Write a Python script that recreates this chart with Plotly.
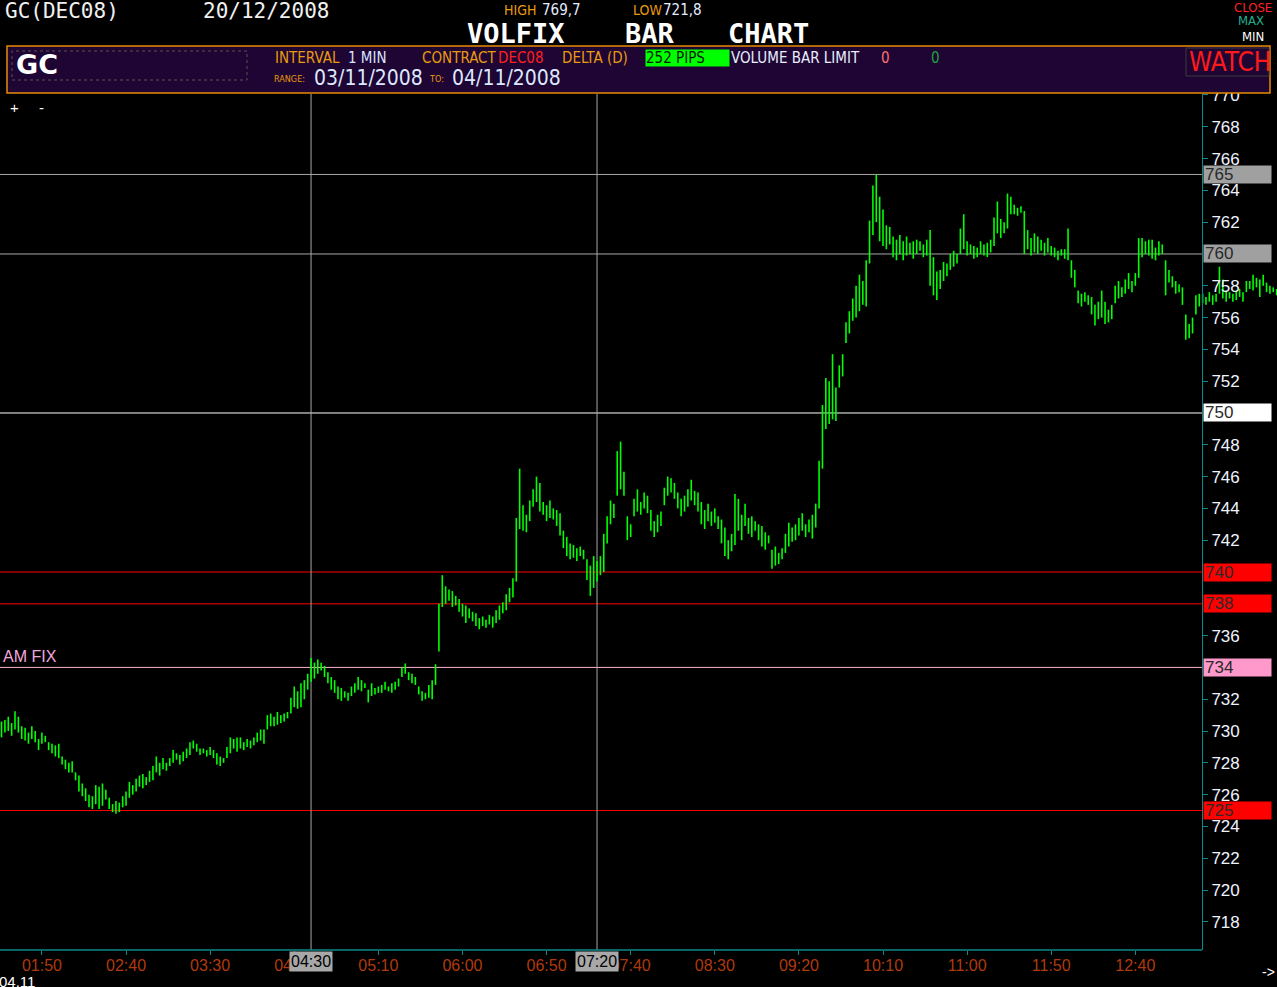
import plotly.graph_objects as go
import pandas as pd

W, H = 1277, 987
# the page photo shows the figure in rows 8..987, so pixel targets are mapped into that band
TOP, BAND = 8, 979
DAY = "2008-11-04"

# ---------------- data (2-minute high/low bars) ----------------
start_time = DAY + " 01:26"
bar_minutes = 2

lows = [
    729.6, 729.9, 730.0, 729.7, 730.1, 729.9, 729.5, 729.4, 729.2, 729.5,
    729.3, 728.8, 729.2, 729.3, 728.8, 728.6, 728.4, 728.3, 727.9, 727.6,
    727.4, 727.4, 726.9, 726.2, 725.9, 725.6, 725.2, 725.1, 725.4, 725.1,
    725.3, 725.7, 725.1, 724.9, 724.8, 724.9, 725.2, 725.3, 725.8, 726.0,
    726.2, 726.5, 726.4, 726.6, 726.8, 726.9, 727.4, 727.2, 727.6, 727.5,
    727.8, 728.0, 728.2, 727.9, 728.1, 728.3, 728.5, 728.9, 728.7, 728.5,
    728.6, 728.4, 728.5, 728.3, 727.9, 727.8, 728.0, 728.3, 728.6, 728.9,
    728.7, 728.9, 728.8, 729.0, 728.9, 729.1, 729.3, 729.4, 729.2, 730.1,
    730.3, 730.3, 730.4, 730.5, 730.6, 730.8, 731.1, 731.5, 731.4, 731.5,
    732.0, 732.6, 733.1, 733.3, 733.6, 733.8, 733.4, 733.0, 732.6, 732.4,
    732.0, 731.9, 732.1, 731.9, 732.2, 732.4, 732.6, 732.5, 732.7, 731.8,
    732.2, 732.3, 732.4, 732.4, 732.6, 732.5, 732.4, 732.6, 732.8, 733.4,
    733.6, 733.2, 733.0, 732.9, 732.3, 731.9, 732.0, 732.1, 732.0, 732.9,
    735.0, 737.8, 738.0, 738.2, 737.8, 737.9, 737.5, 737.2, 736.8, 737.1,
    736.9, 736.6, 736.4, 736.6, 736.5, 736.7, 736.5, 736.8, 737.0, 737.4,
    737.6, 738.1, 738.4, 739.4, 742.7, 742.6, 742.5, 743.2, 744.1, 744.4,
    743.8, 743.6, 743.2, 743.4, 743.3, 742.9, 742.3, 741.5, 741.0, 740.8,
    740.9, 740.7, 741.0, 740.8, 739.5, 738.5, 739.0, 739.4, 739.8, 740.0,
    741.8, 743.0, 743.4, 744.8, 745.2, 744.8, 742.0, 742.2, 743.5, 743.8,
    743.6, 744.0, 743.7, 742.6, 742.2, 742.5, 742.9, 744.2, 744.8, 745.0,
    744.6, 744.0, 743.5, 743.8, 744.1, 744.5, 744.2, 743.8, 743.0, 742.7,
    743.2, 742.9, 743.1, 742.7, 741.8, 741.0, 740.8, 741.3, 741.7, 742.6,
    742.0, 742.9, 742.4, 742.2, 742.6, 742.0, 741.6, 741.4, 741.8, 740.2,
    740.4, 740.5, 740.8, 741.2, 741.6, 741.9, 742.0, 742.3, 742.6, 742.2,
    742.5, 742.1, 742.8, 744.0, 746.5, 749.0, 749.3, 749.6, 749.5, 751.6,
    752.3, 754.4, 755.0, 755.8, 756.0, 756.4, 756.8, 756.7, 759.4, 761.2,
    762.0, 760.8, 760.5, 760.3, 760.6, 759.8, 759.6, 760.0, 759.6, 759.9,
    760.0, 759.7, 760.0, 760.2, 759.8, 759.9, 758.0, 757.4, 757.1, 757.8,
    758.3, 758.6, 759.0, 759.2, 759.4, 760.0, 760.3, 759.9, 760.0, 759.7,
    759.8, 760.0, 759.9, 759.8, 760.1, 760.5, 761.3, 761.0, 761.3, 761.6,
    762.5, 762.5, 762.4, 762.6, 760.0, 760.3, 759.9, 760.1, 760.0, 760.2,
    759.9, 760.1, 759.9, 759.8, 759.6, 759.9, 759.7, 759.6, 758.5, 757.9,
    756.9, 756.7, 757.0, 756.8, 756.2, 755.5, 755.9, 756.0, 755.6, 755.7,
    755.9, 756.9, 757.2, 757.3, 757.5, 757.8, 757.6, 758.0, 758.5, 759.8,
    760.0, 759.9, 759.7, 759.6, 759.9, 760.0, 757.4, 758.2, 757.9, 757.5,
    757.6, 756.8, 754.6, 754.7, 755.0, 756.2, 756.7, 756.9, 756.8, 757.0,
    756.8, 757.0, 757.5, 757.2, 757.0, 757.2, 757.0, 757.1, 757.3, 757.0,
    757.6, 757.8, 757.7, 757.9, 757.3, 758.0, 757.6, 757.5, 757.6, 757.4,
]

highs = [
    730.6, 730.7, 730.9, 730.5, 731.25, 730.9, 730.3, 730.2, 729.9, 730.3,
    730.0, 729.5, 729.9, 729.7, 729.3, 729.2, 729.1, 729.2, 728.4, 728.2,
    728.0, 728.1, 727.4, 727.2, 726.7, 726.4, 726.0, 725.9, 726.6, 726.5,
    726.7, 726.3, 725.8, 725.4, 725.6, 725.5, 725.9, 726.2, 726.8, 726.6,
    727.0, 727.2, 727.3, 727.1, 727.5, 727.8, 728.4, 728.0, 728.3, 728.0,
    728.3, 728.8, 728.6, 728.5, 728.7, 728.9, 729.3, 729.4, 729.2, 728.9,
    728.9, 728.8, 729.0, 728.8, 728.6, 728.4, 728.3, 729.0, 729.6, 729.5,
    729.6, 729.6, 729.3, 729.5, 729.4, 729.6, 729.9, 730.1, 730.1, 731.0,
    731.1, 730.9, 731.2, 731.0, 731.1, 731.2, 732.1, 732.8, 732.5, 733.0,
    733.2, 733.6, 734.6, 734.3, 734.5, 734.3, 734.1, 733.7, 733.4, 733.2,
    732.8, 732.7, 732.5, 732.4, 732.8, 733.0, 733.4, 733.2, 733.0, 732.6,
    733.0, 732.7, 732.8, 732.9, 733.1, 732.8, 733.0, 733.1, 733.3, 734.0,
    734.25, 733.7, 733.6, 733.4, 732.8, 732.5, 732.4, 732.9, 733.2, 734.2,
    738.0, 739.8, 739.1, 738.9, 738.8, 738.5, 738.3, 738.0, 737.9, 737.7,
    737.5, 737.4, 737.1, 737.2, 737.0, 737.3, 737.2, 737.6, 737.9, 738.1,
    738.6, 739.0, 739.6, 743.4, 746.5, 744.2, 743.6, 744.5, 745.2, 746.0,
    745.6, 744.4, 744.2, 744.5, 744.0, 743.9, 743.7, 742.6, 742.2, 741.8,
    741.7, 741.5, 741.6, 741.4, 740.8, 740.4, 741.0, 740.7, 741.0, 742.4,
    743.5, 744.5, 744.3, 747.6, 748.2, 746.3, 743.5, 743.0, 744.6, 745.2,
    744.4, 745.0, 744.8, 743.9, 743.2, 743.6, 743.8, 745.3, 746.0, 745.9,
    745.6, 745.0, 744.6, 744.8, 745.2, 745.8, 745.1, 745.0, 744.4, 743.9,
    744.3, 743.8, 744.0, 743.5, 743.3, 742.8, 742.0, 742.4, 744.9, 744.6,
    743.6, 744.3, 743.4, 743.5, 743.2, 743.0, 742.9, 742.5, 742.3, 741.4,
    741.6, 741.2, 741.5, 742.4, 743.1, 742.8, 743.0, 743.4, 743.7, 743.0,
    743.3, 743.6, 744.3, 747.0, 750.5, 752.2, 752.0, 753.7, 751.6, 753.0,
    753.7, 755.7, 756.4, 757.2, 758.0, 758.7, 758.3, 759.6, 762.1, 764.3,
    765.0, 763.6, 762.8, 761.8, 761.7, 761.1, 760.9, 761.2, 760.8, 761.1,
    760.7, 760.8, 760.9, 760.8, 760.6, 760.9, 761.5, 759.8, 758.9, 759.0,
    759.5, 759.4, 760.0, 760.2, 760.0, 761.6, 762.5, 760.8, 760.6, 760.5,
    760.4, 760.8, 760.6, 760.7, 760.9, 762.3, 763.3, 762.2, 762.0, 763.8,
    763.6, 763.1, 762.9, 763.0, 762.7, 761.5, 761.0, 761.3, 761.1, 760.9,
    760.7, 761.0, 760.5, 760.4, 760.2, 760.3, 760.3, 761.6, 759.6, 759.0,
    757.7, 757.5, 757.6, 757.4, 757.3, 756.8, 757.0, 757.7, 757.0, 756.5,
    756.8, 758.0, 758.3, 757.9, 758.4, 758.8, 758.3, 758.8, 761.0, 761.0,
    760.8, 760.9, 760.9, 760.4, 760.8, 760.6, 759.6, 759.0, 758.6, 758.3,
    758.1, 757.9, 756.2, 755.6, 756.0, 757.4, 757.5, 757.5, 757.3, 757.6,
    757.4, 757.5, 759.2, 758.4, 757.7, 757.6, 757.5, 757.7, 757.8, 757.6,
    758.3, 758.3, 758.7, 758.5, 758.4, 758.7, 758.2, 758.0, 757.9, 757.8,
]

time_ticks = ["01:50", "02:40", "03:30", "04:20", "05:10", "06:00", "06:50",
              "07:40", "08:30", "09:20", "10:10", "11:00", "11:50", "12:40"]
y_ticks = list(range(718, 771, 2))
x_window = ["01:25:05", "14:04:13"]
y_window = [716.23, 770.06]

levels = [765, 760, 750, 740, 738, 734, 725]
level_line_colors = ["#a8a8a8", "#a8a8a8", "#ffffff", "#ff0000", "#ff0000", "#ffb4d2", "#ff0000"]
level_box_colors = ["#a0a0a0", "#a0a0a0", "#ffffff", "#ff0000", "#ff0000", "#ff99cc", "#ff0000"]
marker_times = ["04:30", "07:20"]
am_fix_level = 734

# ---------------- styles ----------------
ARIAL = "Liberation Sans, Arial, sans-serif"
NARROW = "Liberation Sans Narrow, DejaVu Sans Condensed, Arial Narrow, sans-serif"
MONO = "DejaVu Sans Mono, monospace"
BOLDSANS = "DejaVu Sans, sans-serif"
TEAL = "#0a8a8a"
ORANGE = "#e89a10"
AXIS_POS = 1202 / W


def px(x):
    return x / W


def py(y):
    return 1 - (y - TOP) / BAND


Y_DOM = [py(950), py(94)]

# ---------------- bars ----------------
times = pd.date_range(start_time, periods=len(lows), freq=f"{bar_minutes}min")
xs, ys = [], []
for t, lo, hi in zip(times, lows, highs):
    ts = t.strftime("%Y-%m-%d %H:%M:%S")
    xs += [ts, ts, None]
    ys += [lo, hi, None]

fig = go.Figure()
fig.add_trace(go.Scatter(x=xs, y=ys, mode="lines", line=dict(color="#00ff00", width=1.6),
                         hoverinfo="skip", showlegend=False))

shapes = []
annotations = []


def txt(s, x, y, size, color, family=ARIAL, anchor="left", bg=None, bold=False,
        width=None, height=None):
    d = dict(text=s, x=px(x), y=py(y), xref="paper", yref="paper", xanchor=anchor,
             yanchor="middle", showarrow=False, borderpad=0,
             font=dict(size=size, color=color, family=family,
                       weight="bold" if bold else "normal"))
    if bg:
        d["bgcolor"] = bg
    if width:
        d["width"] = width
        d["align"] = "left"
    if height:
        d["height"] = height
    annotations.append(d)


# horizontal level lines + right-hand boxes
for lv, lc, bc in zip(levels, level_line_colors, level_box_colors):
    shapes.append(dict(type="line", xref="paper", x0=0, x1=AXIS_POS, yref="y", y0=lv, y1=lv,
                       line=dict(color=lc, width=1), layer="below"))
    annotations.append(dict(text=str(lv), xref="paper", x=AXIS_POS + 0.5 / W, yref="y", y=lv,
                            xanchor="left", yanchor="middle", showarrow=False,
                            bgcolor=bc, width=65, height=15, borderpad=1, align="left",
                            font=dict(size=17, color="#2a2a2a", family=ARIAL)))

# vertical time markers
for mt in marker_times:
    shapes.append(dict(type="line", xref="x", x0=f"{DAY} {mt}", x1=f"{DAY} {mt}",
                       yref="y domain", y0=0, y1=1, line=dict(color="#a8a8a8", width=1),
                       layer="below"))
    annotations.append(dict(text=mt, xref="x", x=f"{DAY} {mt}", yref="paper", y=py(961),
                            xanchor="center", yanchor="middle", showarrow=False,
                            bgcolor="#a8a8a8", borderpad=1,
                            font=dict(size=16, color="#000000", family=ARIAL)))

# bottom axis line (stops at the price axis)
shapes.append(dict(type="line", xref="paper", x0=0, x1=AXIS_POS, yref="y domain", y0=0, y1=0,
                   line=dict(color=TEAL, width=1.5)))

# AM FIX label
annotations.append(dict(text="AM FIX", xref="paper", x=px(1), yref="y", y=am_fix_level,
                        xanchor="left", yanchor="bottom", showarrow=False, borderpad=1,
                        font=dict(size=16, color="#f0a8dc", family=ARIAL)))

# ---------------- header ----------------
txt("GC(DEC08)", 4, 11, 21, "#f0f0f0", MONO)
txt("20/12/2008", 202, 11, 21, "#f0f0f0", MONO)
txt("HIGH", 503, 10, 14, ORANGE, NARROW)
txt("769,7", 541, 10, 15, "#e4ecff", NARROW)
txt("LOW", 632, 10, 14, ORANGE, NARROW)
txt("721,8", 662, 10, 15, "#e4ecff", NARROW)
txt("VOLFIX", 516, 33, 27, "#ffffff", MONO, anchor="center", bold=True)
txt("BAR", 650, 33, 27, "#ffffff", MONO, anchor="center", bold=True)
txt("CHART", 768, 33, 27, "#ffffff", MONO, anchor="center", bold=True)
txt("CLOSE", 1273, 7, 13, "#ff2020", NARROW, anchor="right")
txt("MAX", 1265, 21, 13, "#20b090", NARROW, anchor="right")
txt("MIN", 1265, 37, 13, "#ffffff", NARROW, anchor="right")

shapes.append(dict(type="rect", xref="paper", yref="paper", x0=px(7), x1=px(1270),
                   y0=py(93), y1=py(46), fillcolor="#1e0533",
                   line=dict(color="#e88a00", width=1.5), layer="above"))
shapes.append(dict(type="rect", xref="paper", yref="paper", x0=px(12), x1=px(247),
                   y0=py(80), y1=py(51), line=dict(color="#555555", width=1, dash="dot"),
                   layer="above"))
shapes.append(dict(type="rect", xref="paper", yref="paper", x0=px(1186), x1=px(1269),
                   y0=py(76), y1=py(48), line=dict(color="#3a3a3a", width=1),
                   layer="above"))

txt("GC", 15, 65, 27, "#ffffff", BOLDSANS, bold=True)
txt("INTERVAL", 274, 58, 15, ORANGE, NARROW)
txt("1 MIN", 347, 58, 15, "#d8e4ff", NARROW)
txt("CONTRACT", 421, 58, 15, ORANGE, NARROW)
txt("DEC08", 497, 58, 15, "#ff2020", NARROW)
txt("DELTA (D)", 561, 58, 15, ORANGE, NARROW)
txt("252 PIPS", 645, 58, 15, "#002000", NARROW, bg="#00ff00", width=83, height=16)
txt("VOLUME BAR LIMIT", 730, 58, 15, "#e8eeff", NARROW)
txt("0", 880, 58, 15, "#ff7070", NARROW)
txt("0", 930, 58, 15, "#20a040", NARROW)
txt("RANGE:", 273, 79, 9, ORANGE, NARROW)
txt("03/11/2008", 313, 78, 21, "#dde8ff", NARROW)
txt("TO:", 428, 79, 9, ORANGE, NARROW)
txt("04/11/2008", 451, 78, 21, "#dde8ff", NARROW)
txt("WATCH", 1188, 62, 26, "#ff1a1a", NARROW)

txt("+", 9, 108, 15, "#ffffff", ARIAL)
txt("-", 38, 107, 15, "#ffffff", ARIAL)
txt("04.11", -2, 981, 15, "#ffffff", ARIAL)
txt("->", 1261, 972, 14, "#ffffff", ARIAL)

# ---------------- layout ----------------
tick_labels_shown = [v for v in y_ticks if v not in levels]

fig.update_layout(
    width=W, height=H,
    margin=dict(l=0, r=0, t=0, b=0, pad=0),
    paper_bgcolor="#000000", plot_bgcolor="#000000",
    showlegend=False,
    xaxis=dict(type="date", domain=[0, 1],
               range=[f"{DAY} {x_window[0]}", f"{DAY} {x_window[1]}"],
               tickvals=[f"{DAY} {t}" for t in time_ticks], ticktext=time_ticks,
               ticks="outside", ticklen=4, tickcolor=TEAL, tickwidth=1,
               ticklabelstandoff=-3,
               tickfont=dict(size=16, color="#b03a0c", family=ARIAL),
               showgrid=False, zeroline=False, showline=False, fixedrange=True),
    yaxis=dict(domain=Y_DOM, range=y_window, anchor="free", position=AXIS_POS, side="right",
               tickvals=tick_labels_shown, ticks="outside", ticklen=5, tickcolor=TEAL,
               showline=True, linecolor=TEAL, linewidth=1,
               tickfont=dict(size=17, color="#eef4ff", family=ARIAL),
               showgrid=False, zeroline=False, fixedrange=True),
    shapes=shapes,
    annotations=annotations,
)

fig.write_html("out.html", config={"displayModeBar": False},
               post_script="document.body.style.margin='0';"
                           "document.body.style.background='#000';"
                           "document.body.style.overflow='hidden';")
